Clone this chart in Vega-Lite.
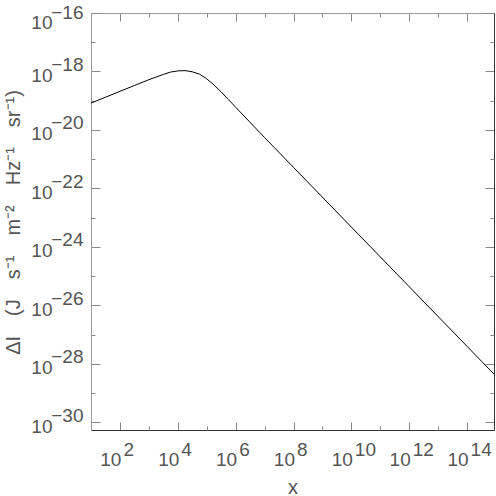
{
  "$schema": "https://vega.github.io/schema/vega-lite/v6.json",
  "width": 403,
  "height": 417,
  "autosize": {"type": "none"},
  "padding": {"left": 91, "top": 13, "right": 2, "bottom": 66},
  "background": "white",
  "config": {
    "view": {"stroke": null},
    "axis": {
      "grid": false,
      "labelFont": "Liberation Sans",
      "labelFontSize": 19,
      "labelColor": "#555555",
      "labelOverlap": false,
      "labelFlush": false,
      "labelBound": false,
      "titleFont": "Liberation Sans",
      "titleFontSize": 20,
      "titleFontWeight": "normal",
      "titleColor": "#555555",
      "tickColor": "#888888",
      "tickWidth": 1,
      "domainWidth": 1
    }
  },
  "data": {
    "values": [
      {"x": 10, "y": 8.318e-20},
      {"x": 31.62, "y": 1.318e-19},
      {"x": 100, "y": 2.089e-19},
      {"x": 316.2, "y": 3.311e-19},
      {"x": 1000, "y": 5.248e-19},
      {"x": 3162, "y": 7.943e-19},
      {"x": 5623, "y": 9.55e-19},
      {"x": 10000, "y": 1.047e-18},
      {"x": 17783, "y": 1.072e-18},
      {"x": 31623, "y": 9.772e-19},
      {"x": 56234, "y": 8.128e-19},
      {"x": 100000, "y": 5.623e-19},
      {"x": 177828, "y": 3.467e-19},
      {"x": 316228, "y": 1.995e-19},
      {"x": 562341, "y": 1.096e-19},
      {"x": 1000000, "y": 6.026e-20},
      {"x": 10000000, "y": 5.495e-21},
      {"x": 100000000, "y": 5.248e-22},
      {"x": 10000000000, "y": 4.786e-24},
      {"x": 1000000000000, "y": 4.365e-26},
      {"x": 100000000000000, "y": 3.981e-28},
      {"x": 851000000000000, "y": 4.467e-29}
    ]
  },
  "resolve": {"axis": {"x": "independent", "y": "independent"}},
  "layer": [
    {
      "mark": {"type": "line", "color": "black", "strokeWidth": 1},
      "encoding": {
        "x": {"field": "x", "type": "quantitative",
          "scale": {"type": "log", "domain": [10, 851000000000000], "nice": false},
          "axis": {"orient": "bottom", "values": [100, 10000, 1000000, 100000000, 10000000000, 1000000000000, 100000000000000],
            "labelExpr": "'10'", "labelAlign": "right", "labelOffset": 1, "labelBaseline": "alphabetic", "labelPadding": 35,
            "ticks": false, "domain": false, "title": "x", "titleY": 63, "titleBaseline": "alphabetic"}},
        "y": {"field": "y", "type": "quantitative",
          "scale": {"type": "log", "domain": [5.5e-31, 1e-16], "nice": false},
          "axis": {"orient": "left", "values": [1e-16, 1e-18, 1e-20, 1e-22, 1e-24, 1e-26, 1e-28, 1e-30],
            "labelExpr": "'10'", "labelAlign": "right", "labelBaseline": "alphabetic",
            "labelOffset": {"condition": {"test": "datum.value > 5e-17", "value": 15}, "value": 10},
            "labelPadding": 39,
            "ticks": false, "domain": false, "title": "ΔI\u2003(J\u2003s⁻¹\u2003m⁻²\u2003Hz⁻¹\u2003sr⁻¹)", "titleX": -78, "titleY": 209, "titleAngle": -90, "titleBaseline": "middle", "titleAlign": "center"}}
      }
    },
    {
      "mark": {"type": "line", "strokeOpacity": 0},
      "encoding": {
        "x": {"field": "x", "type": "quantitative",
          "scale": {"type": "log", "domain": [10, 851000000000000], "nice": false},
          "axis": {"orient": "bottom", "values": [100, 10000, 1000000, 100000000, 10000000000, 1000000000000, 100000000000000],
            "labelExpr": "'' + round(log(datum.value)/LN10)", "labelAlign": "left", "labelOffset": 3, "labelBaseline": "alphabetic", "labelPadding": 25,
            "ticks": false, "domain": false, "title": null}},
        "y": {"field": "y", "type": "quantitative",
          "scale": {"type": "log", "domain": [5.5e-31, 1e-16], "nice": false},
          "axis": {"orient": "left", "values": [1e-16, 1e-18, 1e-20, 1e-22, 1e-24, 1e-26, 1e-28, 1e-30],
            "labelExpr": "'−' + round(-log(datum.value)/LN10)", "labelAlign": "right", "labelBaseline": "alphabetic",
            "labelOffset": {"condition": {"test": "datum.value > 5e-17", "value": 5}, "value": -1},
            "labelPadding": 8,
            "ticks": false, "domain": false, "title": null}}
      }
    },
    {
      "mark": {"type": "line", "strokeOpacity": 0},
      "encoding": {
        "x": {"field": "x", "type": "quantitative",
          "scale": {"type": "log", "domain": [10, 851000000000000], "nice": false},
          "axis": {"orient": "bottom", "values": [100, 10000, 1000000, 100000000, 10000000000, 1000000000000, 100000000000000],
            "labels": false, "ticks": true, "tickSize": -8, "domain": true, "domainColor": "#333333", "title": null}},
        "y": {"field": "y", "type": "quantitative",
          "scale": {"type": "log", "domain": [5.5e-31, 1e-16], "nice": false},
          "axis": {"orient": "left", "values": [1e-16, 1e-18, 1e-20, 1e-22, 1e-24, 1e-26, 1e-28, 1e-30],
            "labels": false, "ticks": true, "tickSize": -9, "domain": true, "domainColor": "#999999", "title": null}}
      }
    },
    {
      "mark": {"type": "line", "strokeOpacity": 0},
      "encoding": {
        "x": {"field": "x", "type": "quantitative",
          "scale": {"type": "log", "domain": [10, 851000000000000], "nice": false},
          "axis": {"orient": "bottom", "values": [1000, 100000, 10000000, 1000000000, 100000000000, 10000000000000],
            "labels": false, "ticks": true, "tickSize": -4, "domain": false, "title": null}},
        "y": {"field": "y", "type": "quantitative",
          "scale": {"type": "log", "domain": [5.5e-31, 1e-16], "nice": false},
          "axis": {"orient": "left", "values": [1e-17, 1e-19, 1e-21, 1e-23, 1e-25, 1e-27, 1e-29],
            "labels": false, "ticks": true, "tickSize": -4, "domain": false, "title": null}}
      }
    },
    {
      "mark": {"type": "line", "strokeOpacity": 0},
      "encoding": {
        "x": {"field": "x", "type": "quantitative",
          "scale": {"type": "log", "domain": [10, 851000000000000], "nice": false},
          "axis": {"orient": "top", "values": [100, 10000, 1000000, 100000000, 10000000000, 1000000000000, 100000000000000],
            "labels": false, "ticks": true, "tickSize": -8, "domain": true, "domainColor": "#999999", "title": null}},
        "y": {"field": "y", "type": "quantitative",
          "scale": {"type": "log", "domain": [5.5e-31, 1e-16], "nice": false},
          "axis": {"orient": "right", "values": [1e-16, 1e-18, 1e-20, 1e-22, 1e-24, 1e-26, 1e-28, 1e-30],
            "labels": false, "ticks": true, "tickSize": -9, "domain": true, "domainColor": "#333333", "title": null}}
      }
    },
    {
      "mark": {"type": "line", "strokeOpacity": 0},
      "encoding": {
        "x": {"field": "x", "type": "quantitative",
          "scale": {"type": "log", "domain": [10, 851000000000000], "nice": false},
          "axis": {"orient": "top", "values": [1000, 100000, 10000000, 1000000000, 100000000000, 10000000000000],
            "labels": false, "ticks": true, "tickSize": -4, "domain": false, "title": null}},
        "y": {"field": "y", "type": "quantitative",
          "scale": {"type": "log", "domain": [5.5e-31, 1e-16], "nice": false},
          "axis": {"orient": "right", "values": [1e-17, 1e-19, 1e-21, 1e-23, 1e-25, 1e-27, 1e-29],
            "labels": false, "ticks": true, "tickSize": -4, "domain": false, "title": null}}
      }
    }
  ]
}
